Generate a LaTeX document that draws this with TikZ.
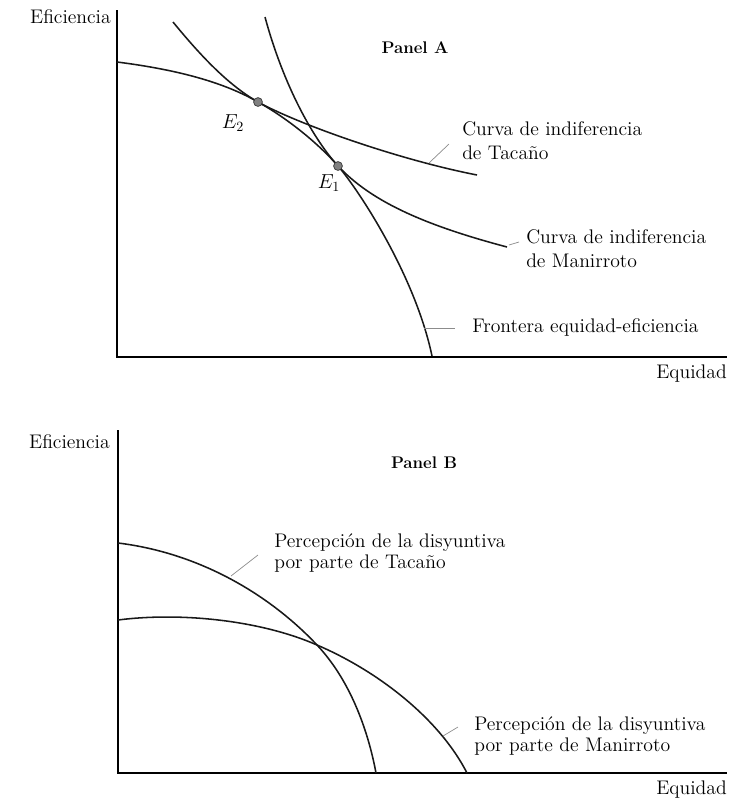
\documentclass[tikz,border=0pt]{standalone}
\usetikzlibrary{positioning}
\begin{document}
\begin{tikzpicture}[
    x=0.025cm, y=-0.025cm,
    axis/.style={line width=1pt, draw=black},
    curve/.style={line width=1.1pt, draw=black!90},
    leader/.style={line width=0.5pt, draw=black!45},
    lbl/.style={font=\fontsize{14}{17}\selectfont, align=left, anchor=west, inner sep=0pt},
    lblb/.style={lbl, font=\fontsize{14}{15.5}\selectfont},
    panel/.style={font=\fontsize{12}{14}\selectfont\bfseries, inner sep=0pt},
    eqpt/.style={circle, fill=black!50, draw=black!80, line width=0.5pt, inner sep=0pt, minimum size=0.22cm}
]
\useasboundingbox (0,0) rectangle (740,798);

% Panel A
\coordinate (topA) at (117,10);
\coordinate (endA) at (727,357);
\draw[axis] (topA) |- (endA);
\node[lbl, anchor=east] (effA) at (111,17) {Eficiencia};
\node[lbl, anchor=east] (eqA) at (727,374) {Equidad};
\node[panel] (panA) at (415,48) {Panel A};

\coordinate (e2c) at (258,102);
\coordinate (e1c) at (338,166);
% frontera
\draw[curve] (117,62) .. controls (180,70) and (225,83) .. (e2c)
    .. controls (285,117) and (316,141) .. (e1c)
    .. controls (358,189) and (415,275) .. (432,356);
% Tacaño
\draw[curve] (173,22) .. controls (200,55) and (228,85) .. (e2c)
    .. controls (300,125) and (400,160) .. (477,175);
% Manirroto
\draw[curve] (265,17) .. controls (282,80) and (310,135) .. (e1c)
    .. controls (370,200) and (420,224) .. (507,247);

\node[eqpt] (e2) at (e2c) {};
\node[eqpt] (e1) at (e1c) {};
\node (e2lbl) at (233,123) {\fontsize{14}{17}\selectfont$E_2$};
\node (e1lbl) at (329,183) {\fontsize{14}{17}\selectfont$E_1$};

\node[lbl] (tacA) at (462,141) {Curva de indiferencia\\de Tacaño};
\node[lbl] (manA) at (526,249) {Curva de indiferencia\\de Manirroto};
\node[lbl] (front) at (472,327) {Frontera equidad-eficiencia};

\coordinate (tacAc) at (429,163);
\coordinate (tacAe) at (449,144);
\coordinate (manAc) at (509,245);
\coordinate (manAe) at (519,242);
\coordinate (frontc) at (424,328);
\coordinate (fronte) at (455,328);
\draw[leader] (tacAc) -- (tacAe);
\draw[leader] (manAc) -- (manAe);
\draw[leader] (frontc) -- (fronte);

% Panel B
\coordinate (topB) at (118,430);
\coordinate (endB) at (727,773);
\draw[axis] (topB) |- (endB);
\node[lbl, anchor=east] (effB) at (110,442) {Eficiencia};
\node[lbl, anchor=east] (eqB) at (727,790) {Equidad};
\node[panel] (panB) at (424,463) {Panel B};

\coordinate (crossB) at (317,645);
% Tacaño
\draw[curve] (118,543) .. controls (200,553) and (270,595) .. (crossB)
    .. controls (350,680) and (368,730) .. (376,773);
% Manirroto
\draw[curve] (118,620) .. controls (180,612) and (260,620) .. (crossB)
    .. controls (380,672) and (440,720) .. (467,773);

\node[lblb] (tacB) at (274,553) {Percepción de la disyuntiva\\por parte de Tacaño};
\node[lblb] (manB) at (474,736) {Percepción de la disyuntiva\\por parte de Manirroto};

\coordinate (tacBc) at (231,576);
\coordinate (tacBe) at (258,555);
\coordinate (manBc) at (443,736);
\coordinate (manBe) at (458,727);
\draw[leader] (tacBc) -- (tacBe);
\draw[leader] (manBc) -- (manBe);

\end{tikzpicture}
\end{document}
